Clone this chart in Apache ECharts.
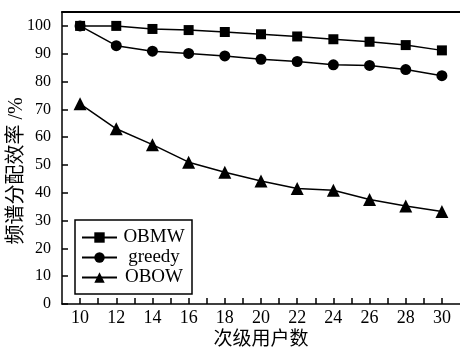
<!DOCTYPE html>
<html><head><meta charset="utf-8">
<script src="https://cdn.jsdelivr.net/npm/echarts@6/dist/echarts.min.js"></script>
<style>html,body{margin:0;padding:0;background:#fff}#c{width:460px;height:349px}</style>
</head><body><div id="c"></div>
<script>
const categories = [10, 12, 14, 16, 18, 20, 22, 24, 26, 28, 30];
const obmw = [100, 100, 98.9, 98.5, 97.8, 97.0, 96.2, 95.2, 94.3, 93.1, 91.2];
const greedy = [100, 92.9, 90.9, 90.1, 89.2, 88.0, 87.2, 86.0, 85.8, 84.3, 82.1];
const obow = [72.0, 63.0, 57.3, 51.0, 47.4, 44.2, 41.5, 40.9, 37.6, 35.2, 33.3];
const seriesNames = ['OBMW', 'greedy', 'OBOW'];
const xTitle = '次级用户数';
const yTitle = '频谱分配效率 /%';

const FONT = '"Liberation Serif", "Noto Sans CJK SC", serif';
const pairs = arr => categories.map((c, i) => [c, arr[i]]);
const chart = echarts.init(document.getElementById('c'), null, {renderer: 'canvas'});
const mk = (name, data, symbol, size) => ({
  name, type: 'line', data: pairs(data), symbol, symbolSize: size,
  showAllSymbol: true,
  lineStyle: {color: '#000', width: 1.5},
  itemStyle: {color: '#000', borderColor: '#000', borderWidth: 0},
  emphasis: {disabled: true}, animation: false, z: 3
});
chart.setOption({
  animation: false,
  grid: {left: 62, right: 0, top: 12, bottom: 45, containLabel: false, outerBoundsMode: 'none'},
  legend: {
    orient: 'vertical', left: 75, top: 220,
    data: seriesNames,
    itemWidth: 35, itemHeight: 13, itemGap: 1,
    padding: [8, 6, 7, 6],
    borderColor: '#000', borderWidth: 1.5,
    formatter: n => '{a|' + n + '}',
    textStyle: {fontFamily: FONT, fontSize: 19, color: '#000',
      rich: {a: {fontFamily: FONT, fontSize: 19, color: '#000', width: 64, align: 'center', lineHeight: 19}}},
    selectedMode: false
  },
  xAxis: [{
    type: 'value', min: 9, max: 31, interval: 1,
    name: xTitle, nameLocation: 'middle', nameGap: 27, nameMoveOverlap: false,
    nameTextStyle: {fontFamily: FONT, fontSize: 19, color: '#000'},
    axisLine: {lineStyle: {color: '#000', width: 1.5}},
    axisTick: {inside: true, length: 6, lineStyle: {color: '#000', width: 1.5},
      interval: (i, v) => categories.indexOf(v) >= 0},
    axisLabel: {fontFamily: FONT, fontSize: 18, color: '#000', margin: 5,
      formatter: v => categories.indexOf(v) >= 0 ? String(v) : '',
      showMinLabel: false, showMaxLabel: false},
    splitLine: {show: false}
  }, {
    type: 'value', position: 'top', min: 9, max: 31,
    axisLine: {show: true, onZero: false, lineStyle: {color: '#000', width: 2}},
    axisTick: {show: false}, axisLabel: {show: false}, splitLine: {show: false}
  }],
  yAxis: {
    type: 'value', min: 0, max: 105, interval: 10,
    name: yTitle, nameLocation: 'middle', nameGap: 35, nameRotate: 90, nameMoveOverlap: false,
    nameTextStyle: {fontFamily: FONT, fontSize: 20, color: '#000', padding: [0, 26, 0, 0]},
    axisLine: {show: true, lineStyle: {color: '#000', width: 1.5}},
    axisTick: {inside: true, length: 6, lineStyle: {color: '#000', width: 1.5}},
    axisLabel: {fontFamily: FONT, fontSize: 16, color: '#000', margin: 11,
      formatter: v => v % 10 === 0 ? String(v) : ''},
    splitLine: {show: false}
  },
  series: [
    mk(seriesNames[0], obmw, 'rect', 10),
    mk(seriesNames[1], greedy, 'circle', 11),
    mk(seriesNames[2], obow, 'triangle', 13)
  ]
});
</script></body></html>
